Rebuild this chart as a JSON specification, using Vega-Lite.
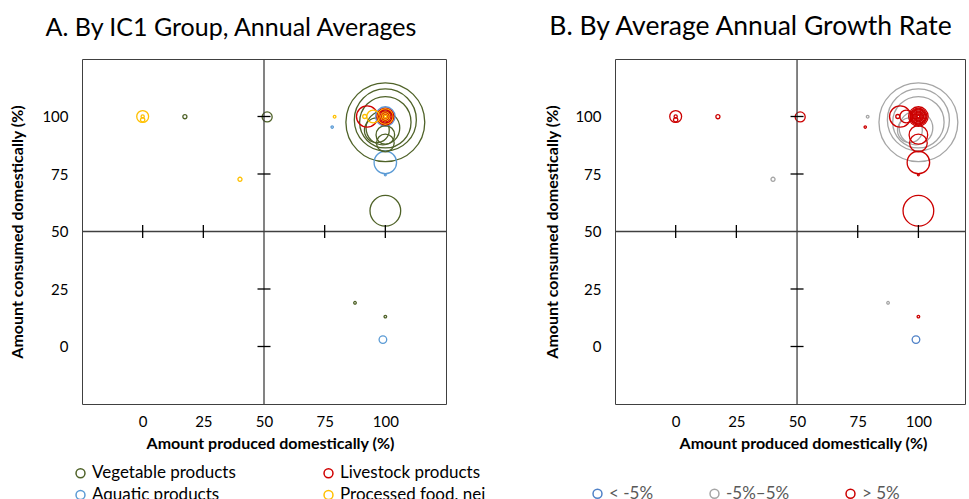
{
  "$schema": "https://vega.github.io/schema/vega-lite/v6.json",
  "autosize": {"type": "pad"},
  "padding": {"left": 8, "top": 13, "right": 0, "bottom": 0},
  "background": "white",
  "bounds": "flush",
  "spacing": 169,
  "config": {
    "font": "Lato",
    "view": {"stroke": "#404040", "strokeWidth": 1},
    "axis": {"grid": false, "domain": false, "ticks": false, "labelFont": "Lato", "labelFontSize": 15, "labelColor": "#000", "titleFont": "Lato", "titleFontSize": 16, "titleFontWeight": "bold", "titleColor": "#000"},
    "legend": {"padding": 0, "title": null, "labelFont": "Lato", "labelFontSize": 17, "symbolSize": 80, "symbolStrokeWidth": 1.5, "labelOffset": 3, "rowPadding": 4}
  },
  "datasets": {
    "bubbles": [
      {"produced": 100, "consumed": 97.5, "volume": 1980, "group": "Vegetable products", "growth": "-5%–5%"},
      {"produced": 100, "consumed": 98.5, "volume": 1225, "group": "Vegetable products", "growth": "-5%–5%"},
      {"produced": 100, "consumed": 97.5, "volume": 841, "group": "Vegetable products", "growth": "-5%–5%"},
      {"produced": 99, "consumed": 95, "volume": 361, "group": "Vegetable products", "growth": "-5%–5%"},
      {"produced": 100, "consumed": 59, "volume": 300, "group": "Vegetable products", "growth": "> 5%"},
      {"produced": 96.5, "consumed": 94, "volume": 196, "group": "Vegetable products", "growth": "-5%–5%"},
      {"produced": 100, "consumed": 80, "volume": 161, "group": "Aquatic products", "growth": "> 5%"},
      {"produced": 92.5, "consumed": 100, "volume": 144, "group": "Livestock products", "growth": "> 5%"},
      {"produced": 100, "consumed": 100, "volume": 121, "group": "Aquatic products", "growth": "> 5%"},
      {"produced": 100, "consumed": 92, "volume": 110, "group": "Vegetable products", "growth": "> 5%"},
      {"produced": 100, "consumed": 88.5, "volume": 100, "group": "Vegetable products", "growth": "> 5%"},
      {"produced": 100, "consumed": 100, "volume": 90, "group": "Livestock products", "growth": "> 5%"},
      {"produced": 100, "consumed": 100, "volume": 72, "group": "Processed food, nei", "growth": "> 5%"},
      {"produced": 100, "consumed": 100, "volume": 56, "group": "Livestock products", "growth": "> 5%"},
      {"produced": 95, "consumed": 100, "volume": 53, "group": "Processed food, nei", "growth": "> 5%"},
      {"produced": 0, "consumed": 100, "volume": 45, "group": "Processed food, nei", "growth": "> 5%"},
      {"produced": 100, "consumed": 100, "volume": 36, "group": "Livestock products", "growth": "> 5%"},
      {"produced": 51.3, "consumed": 99.8, "volume": 32, "group": "Vegetable products", "growth": "> 5%"},
      {"produced": 100, "consumed": 100, "volume": 25, "group": "Processed food, nei", "growth": "> 5%"},
      {"produced": 99, "consumed": 3, "volume": 18.5, "group": "Aquatic products", "growth": "< -5%"},
      {"produced": 100, "consumed": 100, "volume": 16, "group": "Livestock products", "growth": "> 5%"},
      {"produced": 100, "consumed": 100, "volume": 9, "group": "Processed food, nei", "growth": "> 5%"},
      {"produced": 0, "consumed": 98.6, "volume": 6, "group": "Processed food, nei", "growth": "> 5%"},
      {"produced": 17.4, "consumed": 99.9, "volume": 5.3, "group": "Vegetable products", "growth": "> 5%"},
      {"produced": 40.1, "consumed": 72.7, "volume": 5.3, "group": "Processed food, nei", "growth": "-5%–5%"},
      {"produced": 91.5, "consumed": 100, "volume": 5, "group": "Processed food, nei", "growth": "> 5%"},
      {"produced": 100, "consumed": 100, "volume": 4, "group": "Livestock products", "growth": "> 5%"},
      {"produced": 0, "consumed": 100, "volume": 3.2, "group": "Processed food, nei", "growth": "> 5%"},
      {"produced": 87.5, "consumed": 19, "volume": 2.2, "group": "Vegetable products", "growth": "-5%–5%"},
      {"produced": 79.1, "consumed": 99.9, "volume": 2.2, "group": "Processed food, nei", "growth": "-5%–5%"},
      {"produced": 100, "consumed": 13, "volume": 2.2, "group": "Vegetable products", "growth": "> 5%"},
      {"produced": 100, "consumed": 100, "volume": 2.2, "group": "Processed food, nei", "growth": "> 5%"},
      {"produced": 78.1, "consumed": 95.4, "volume": 1.7, "group": "Aquatic products", "growth": "> 5%"},
      {"produced": 100, "consumed": 74.6, "volume": 1, "group": "Aquatic products", "growth": "> 5%"}
    ],
    "ticks": [{"v": 0}, {"v": 25}, {"v": 75}, {"v": 100}],
    "centre": [{"v": 50}]
  },
  "hconcat": [
    {
      "width": 364,
      "height": 345,
      "title": {"text": "A. By IC1 Group, Annual Averages", "font": "Lato", "fontSize": 25, "fontWeight": "normal", "color": "#000", "anchor": "middle", "frame": "group", "dx": -33, "baseline": "alphabetic", "offset": -3},
      "layer": [
        {
          "data": {"name": "bubbles"},
          "mark": {"type": "point", "shape": "circle", "filled": false, "strokeWidth": 1.3, "opacity": 1},
          "encoding": {
            "x": {"field": "produced", "type": "quantitative", "scale": {"domain": [-25, 125], "nice": false, "zero": false}, "axis": {"values": [0, 25, 50, 75, 100], "title": "Amount produced domestically (%)", "labelPadding": 10, "titleX": 188, "titleY": 44, "titleBaseline": "alphabetic", "titleAlign": "center"}},
            "y": {"field": "consumed", "type": "quantitative", "scale": {"domain": [-25, 125], "nice": false, "zero": false}, "axis": {"values": [0, 25, 50, 75, 100], "title": "Amount consumed domestically (%)", "labelPadding": 14, "titleX": -65, "titleY": 172.5, "titleAngle": -90, "titleBaseline": "middle", "titleAlign": "center"}},
            "size": {"field": "volume", "type": "quantitative", "scale": {"type": "linear", "domain": [0, 2000], "range": [0, 6283], "zero": true}, "legend": null},
            "color": {"field": "group", "type": "nominal", "scale": {"domain": ["Vegetable products", "Aquatic products", "Livestock products", "Processed food, nei"], "range": ["#4F6228", "#5B9BD5", "#D00000", "#FFC000"]}, "legend": {"orient": "none", "legendX": -10, "legendY": 405.5, "columns": 2, "columnPadding": 84, "labelColor": "#000"}}
          }
        },
        {"data": {"name": "centre"}, "mark": {"type": "rule", "color": "#404040", "strokeWidth": 1.3}, "encoding": {"x": {"field": "v", "type": "quantitative"}}},
        {"data": {"name": "centre"}, "mark": {"type": "rule", "color": "#404040", "strokeWidth": 1.3}, "encoding": {"y": {"field": "v", "type": "quantitative"}}},
        {"data": {"name": "ticks"}, "mark": {"type": "tick", "orient": "vertical", "size": 13, "thickness": 1.3, "color": "#000", "opacity": 1}, "encoding": {"x": {"field": "v", "type": "quantitative"}, "y": {"datum": 50, "type": "quantitative"}}},
        {"data": {"name": "ticks"}, "mark": {"type": "tick", "orient": "horizontal", "size": 13, "thickness": 1.3, "color": "#000", "opacity": 1}, "encoding": {"y": {"field": "v", "type": "quantitative"}, "x": {"datum": 50, "type": "quantitative"}}}
      ]
    },
    {
      "width": 350,
      "height": 345,
      "title": {"text": "B. By Average Annual Growth Rate", "font": "Lato", "fontSize": 26.5, "fontWeight": "normal", "color": "#000", "anchor": "middle", "frame": "group", "dx": -39.5, "baseline": "alphabetic", "offset": -3},
      "layer": [
        {
          "data": {"name": "bubbles"},
          "mark": {"type": "point", "shape": "circle", "filled": false, "strokeWidth": 1.3, "opacity": 1},
          "encoding": {
            "x": {"field": "produced", "type": "quantitative", "scale": {"domain": [-25, 119.2], "nice": false, "zero": false}, "axis": {"values": [0, 25, 50, 75, 100], "title": "Amount produced domestically (%)", "labelPadding": 10, "titleX": 188, "titleY": 44, "titleBaseline": "alphabetic", "titleAlign": "center"}},
            "y": {"field": "consumed", "type": "quantitative", "scale": {"domain": [-25, 125], "nice": false, "zero": false}, "axis": {"values": [0, 25, 50, 75, 100], "title": "Amount consumed domestically (%)", "labelPadding": 14, "titleX": -63, "titleY": 172.5, "titleAngle": -90, "titleBaseline": "middle", "titleAlign": "center"}},
            "size": {"field": "volume", "type": "quantitative", "scale": {"type": "linear", "domain": [0, 2000], "range": [0, 6283], "zero": true}, "legend": null},
            "color": {"field": "growth", "type": "nominal", "scale": {"domain": ["< -5%", "-5%–5%", "> 5%"], "range": ["#4F81C7", "#A5A5A5", "#CC0000"]}, "legend": {"orient": "none", "direction": "horizontal", "legendX": -26, "legendY": 426, "columnPadding": 52, "labelColor": "#595959"}}
          }
        },
        {"data": {"name": "centre"}, "mark": {"type": "rule", "color": "#404040", "strokeWidth": 1.3}, "encoding": {"x": {"field": "v", "type": "quantitative"}}},
        {"data": {"name": "centre"}, "mark": {"type": "rule", "color": "#404040", "strokeWidth": 1.3}, "encoding": {"y": {"field": "v", "type": "quantitative"}}},
        {"data": {"name": "ticks"}, "mark": {"type": "tick", "orient": "vertical", "size": 13, "thickness": 1.3, "color": "#000", "opacity": 1}, "encoding": {"x": {"field": "v", "type": "quantitative"}, "y": {"datum": 50, "type": "quantitative"}}},
        {"data": {"name": "ticks"}, "mark": {"type": "tick", "orient": "horizontal", "size": 13, "thickness": 1.3, "color": "#000", "opacity": 1}, "encoding": {"y": {"field": "v", "type": "quantitative"}, "x": {"datum": 50, "type": "quantitative"}}}
      ]
    }
  ],
  "resolve": {"scale": {"x": "independent", "y": "independent", "color": "independent", "size": "independent"}, "legend": {"color": "independent"}}
}
